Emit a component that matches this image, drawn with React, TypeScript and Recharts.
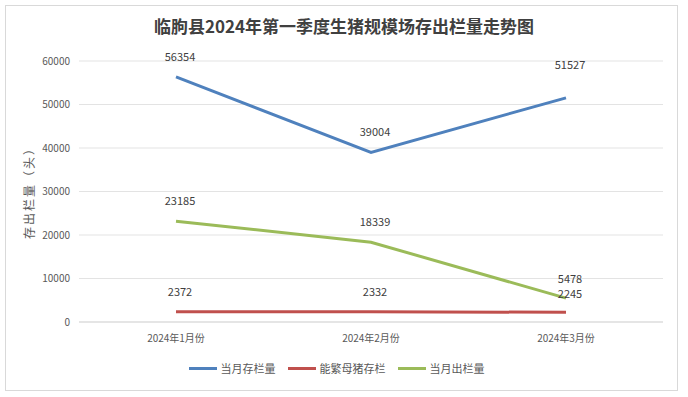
import React from "react";
import { LineChart, Line, XAxis, YAxis, CartesianGrid, Legend, LabelList } from "recharts";

const months = ["2024年1月份", "2024年2月份", "2024年3月份"];
const stock = [56354, 39004, 51527];
const sows = [2372, 2332, 2245];
const sold = [23185, 18339, 5478];
const yTicks = [0, 10000, 20000, 30000, 40000, 50000, 60000];

const series = [
    { key: "stock", name: "当月存栏量", color: "#4f81bd" },
    { key: "sows", name: "能繁母猪存栏", color: "#c0504d" },
    { key: "sold", name: "当月出栏量", color: "#9bbb59" },
];

const data = months.map((m, i) => ({ month: m, stock: stock[i], sows: sows[i], sold: sold[i] }));

const FONT = "'Noto Sans CJK SC', 'Noto Sans', sans-serif";

// extra lift per point, to follow where the original placed its labels
const lifts: Record<string, number[]> = {
    stock: [0, 0, 13],
    sows: [0, 0, -2],
    sold: [0, 0, -1],
};

const valueLabel = (key: string) => (props: any) => {
    const { x, y, value, index } = props;
    return (
        <text
            x={x + 4}
            y={y - 16 - (lifts[key][index] || 0)}
            textAnchor="middle"
            fontSize={11}
            fill="#404040"
            fontFamily={FONT}
        >
            {value}
        </text>
    );
};

const legendContent = () => (
    <div
        style={{
            display: "flex",
            justifyContent: "center",
            gap: 12,
            marginTop: 8,
            marginLeft: 10,
            fontFamily: FONT,
            fontSize: 11,
            color: "#595959",
        }}
    >
        {series.map((s) => (
            <div key={s.key} style={{ display: "flex", alignItems: "center", gap: 4 }}>
                <span style={{ display: "inline-block", width: 28, height: 3, background: s.color }} />
                <span>{s.name}</span>
            </div>
        ))}
    </div>
);

export default function App() {
    return (
        <div style={{ position: "fixed", left: 0, top: 0, width: 688, height: 397, background: "#fff" }}>
            <div
                style={{
                    position: "absolute",
                    left: 5,
                    top: 5,
                    width: 671,
                    height: 384,
                    border: "1px solid #d9d9d9",
                }}
            />
            <div
                style={{
                    position: "absolute",
                    left: 0,
                    top: 13,
                    width: 688,
                    textAlign: "center",
                    fontFamily: FONT,
                    fontWeight: 700,
                    fontSize: 17,
                    color: "#404040",
                }}
            >
                临朐县2024年第一季度生猪规模场存出栏量走势图
            </div>
            <div
                style={{
                    position: "absolute",
                    left: 28,
                    top: 190,
                    transform: "translate(-50%, -50%) rotate(-90deg)",
                    fontFamily: FONT,
                    fontSize: 12,
                    color: "#595959",
                    whiteSpace: "nowrap",
                    letterSpacing: 2,
                }}
            >
                存出栏量（头）
            </div>
            <div style={{ position: "absolute", left: 0, top: 0 }}>
                <LineChart width={688} height={397} data={data} margin={{ top: 61, right: 25, bottom: 10, left: 0 }}>
                    <CartesianGrid vertical={false} stroke="#e3e3e3" />
                    <XAxis
                        dataKey="month"
                        tickLine={false}
                        axisLine={{ stroke: "#d9d9d9" }}
                        tick={{ fontSize: 10, fill: "#595959", fontFamily: FONT }}
                        tickMargin={7}
                        height={30}
                        padding={{ left: 97, right: 97 }}
                    />
                    <YAxis
                        width={79}
                        domain={[0, 60000]}
                        ticks={yTicks}
                        tickLine={false}
                        axisLine={false}
                        tick={{ fontSize: 10, fill: "#595959", fontFamily: FONT }}
                        tickMargin={3}
                    />
                    <Legend verticalAlign="bottom" height={35} content={legendContent} />
                    {series.map((s) => (
                        <Line
                            key={s.key}
                            name={s.name}
                            dataKey={s.key}
                            stroke={s.color}
                            strokeWidth={3}
                            dot={false}
                            isAnimationActive={false}
                        >
                            <LabelList dataKey={s.key} content={valueLabel(s.key)} />
                        </Line>
                    ))}
                </LineChart>
            </div>
        </div>
    );
}
